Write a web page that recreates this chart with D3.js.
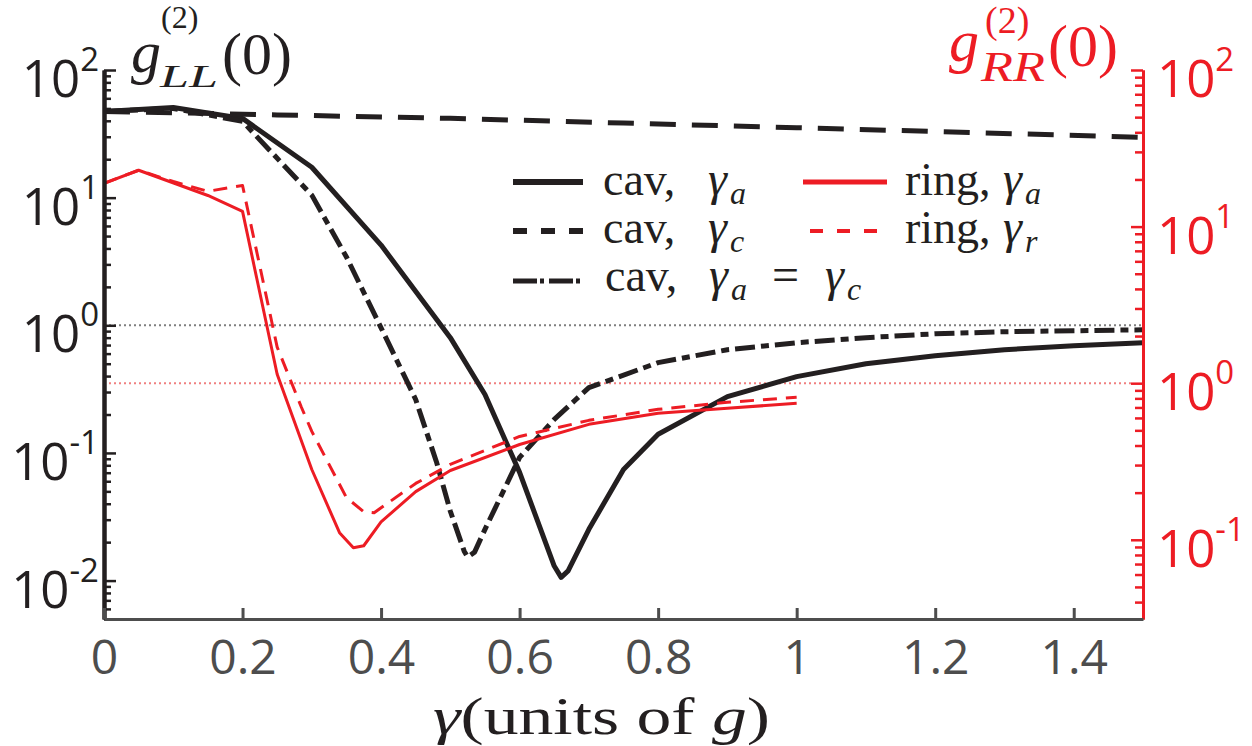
<!DOCTYPE html>
<html>
<head>
<meta charset="utf-8">
<script src="https://cdn.jsdelivr.net/npm/d3@7"></script>
<style>
  body { margin: 0; background: #fff; }
  svg { display: block; }
</style>
</head>
<body>
<div id="graf"></div>
<script>
// values (gamma in units of g)
const cavGaG = [0, 0.1, 0.2, 0.3, 0.4, 0.5, 0.55, 0.6, 0.65, 0.66, 0.67, 0.7, 0.75, 0.8, 0.9, 1.0, 1.1, 1.2, 1.3, 1.4, 1.5]
const cavGaV = [47.4, 50.9, 41.8, 17.3, 4.25, 0.80, 0.287, 0.0704, 0.0130, 0.0106, 0.0119, 0.0252, 0.0743, 0.14, 0.276, 0.396, 0.50, 0.578, 0.644, 0.69, 0.73]

const cavGcG = [0, 0.25, 0.5, 0.75, 1, 1.25, 1.5]
const cavGcV = [47.4, 44.5, 41.8, 38.4, 35.3, 32.4, 29.7]

const cavBothG = [0, 0.1, 0.2, 0.3, 0.35, 0.4, 0.45, 0.48, 0.5, 0.52, 0.525, 0.535, 0.55, 0.6, 0.65, 0.7, 0.8, 0.9, 1.0, 1.1, 1.2, 1.3, 1.4, 1.5]
const cavBothV = [47.4, 50.0, 39.6, 10.46, 3.43, 0.956, 0.262, 0.085, 0.0349, 0.0170, 0.0153, 0.0167, 0.0252, 0.0922, 0.183, 0.325, 0.51, 0.644, 0.73, 0.80, 0.858, 0.89, 0.906, 0.922]

// ring curves use the right (red) axis
const ringGaG = [0, 0.05, 0.15, 0.2, 0.25, 0.3, 0.34, 0.36, 0.375, 0.4, 0.45, 0.5, 0.6, 0.7, 0.8, 0.9, 1.0]
const ringGaV = [18.9, 22.9, 15.8, 12.5, 1.14, 0.281, 0.111, 0.0889, 0.0916, 0.130, 0.203, 0.277, 0.406, 0.546, 0.642, 0.692, 0.744]

const ringGrG = [0, 0.05, 0.1, 0.15, 0.2, 0.25, 0.285, 0.3, 0.35, 0.375, 0.39, 0.45, 0.5, 0.6, 0.7, 0.8, 0.9, 1.0]
const ringGrV = [18.9, 22.9, 19.4, 16.8, 18.3, 1.70, 0.702, 0.492, 0.186, 0.151, 0.149, 0.229, 0.303, 0.457, 0.579, 0.681, 0.755, 0.813]

const xTicks = [0, 0.2, 0.4, 0.6, 0.8, 1, 1.2, 1.4]
const xTickLabels = ["0", "0.2", "0.4", "0.6", "0.8", "1", "1.2", "1.4"]
const leftDecades = [-2, -1, 0, 1, 2]
const rightDecades = [-1, 0, 1, 2]

const BLACK = "#231f20", RED = "#ed1c24", GREY = "#4d4d4d"
const width = 1252, height = 746

const x = d3.scaleLinear().domain([0, 1.5]).range([104, 1143])
const yL = d3.scaleLog().domain([0.005, 100]).range([619, 70])
const yR = d3.scaleLog().domain([0.0312, 100]).range([619, 70])

const svg = d3.select("#graf").append("svg")
    .attr("width", width).attr("height", height)
    .attr("viewBox", [0, 0, width, height])

// reference lines at 1
svg.append("line")
    .attr("x1", x(0)).attr("x2", x(1.5)).attr("y1", yL(1)).attr("y2", yL(1))
    .attr("stroke", "#7f7f7f").attr("stroke-width", 2).attr("stroke-dasharray", "2,3")
svg.append("line")
    .attr("x1", x(0)).attr("x2", x(1.5) - 12).attr("y1", yR(1)).attr("y2", yR(1))
    .attr("stroke", "#f08080").attr("stroke-width", 2).attr("stroke-dasharray", "2,3")

const series = [
  {g: cavGaG, v: cavGaV, y: yL, color: BLACK, w: 5, dash: null},
  {g: cavGcG, v: cavGcV, y: yL, color: BLACK, w: 5, dash: "26,16"},
  {g: cavBothG, v: cavBothV, y: yL, color: BLACK, w: 5, dash: "20,6,8,6"},
  {g: ringGaG, v: ringGaV, y: yR, color: RED, w: 3, dash: null},
  {g: ringGrG, v: ringGrV, y: yR, color: RED, w: 3, dash: "14,9"}
]

series.forEach(s => {
  const line = d3.line().x(i => x(s.g[i])).y(i => s.y(s.v[i]))
  svg.append("path")
      .attr("fill", "none")
      .attr("stroke", s.color)
      .attr("stroke-width", s.w)
      .attr("stroke-linejoin", "round")
      .attr("stroke-dasharray", s.dash)
      .attr("d", line(d3.range(s.g.length)))
})

// axes
const isMajor = v => Math.abs(Math.log10(v) - Math.round(Math.log10(v))) < 1e-6

const leftMinor = yL.ticks().filter(v => !isMajor(v))
const rightMinor = yR.ticks().filter(v => !isMajor(v))

const leftMinorAx = svg.append("g").attr("transform", `translate(${x(0)},0)`)
    .call(d3.axisRight(yL).tickValues(leftMinor).tickSize(7).tickSizeOuter(0).tickFormat(""))
const leftMajorAx = svg.append("g").attr("transform", `translate(${x(0)},0)`)
    .call(d3.axisRight(yL).tickValues(leftDecades.map(d => 10 ** d)).tickSize(12).tickSizeOuter(0).tickFormat(""))
;[leftMinorAx, leftMajorAx].forEach(g => {
  g.selectAll("line").attr("stroke", BLACK).attr("stroke-width", 2.5)
  g.select(".domain").attr("stroke", BLACK).attr("stroke-width", 4)
})

const rightMinorAx = svg.append("g").attr("transform", `translate(${x(1.5)},0)`)
    .call(d3.axisLeft(yR).tickValues(rightMinor).tickSize(8).tickSizeOuter(0).tickFormat(""))
const rightMajorAx = svg.append("g").attr("transform", `translate(${x(1.5)},0)`)
    .call(d3.axisLeft(yR).tickValues(rightDecades.map(d => 10 ** d)).tickSize(12).tickSizeOuter(0).tickFormat(""))
;[rightMinorAx, rightMajorAx].forEach(g => {
  g.selectAll("line").attr("stroke", RED).attr("stroke-width", 2.5)
  g.select(".domain").attr("stroke", RED).attr("stroke-width", 3)
})

const xAx = svg.append("g").attr("transform", `translate(0,${yL.range()[0]})`)
    .call(d3.axisBottom(x).tickValues(xTicks).tickSizeInner(-11).tickSizeOuter(0)
      .tickPadding(21).tickFormat((d, i) => xTickLabels[i]))
xAx.select(".domain").attr("stroke", GREY).attr("stroke-width", 3)
xAx.selectAll("line").attr("stroke", GREY).attr("stroke-width", 3)
xAx.selectAll("text").attr("fill", GREY).attr("font-family", "'Open Sans', sans-serif").attr("font-size", 48)

// decade labels 10^n
const decadeLabel = (xpos, ypos, d, color, anchor) => {
  const t = svg.append("text")
      .attr("x", xpos).attr("y", ypos + 27)
      .attr("text-anchor", anchor)
      .attr("font-family", "'Open Sans', sans-serif")
      .attr("font-size", 51)
      .attr("fill", color)
  t.append("tspan").text("10")
  t.append("tspan").attr("font-size", 33).attr("dy", -26).text(d < 0 ? "-" + Math.abs(d) : d)
}
leftDecades.forEach(d => decadeLabel(99, yL(10 ** d), d, BLACK, "end"))
rightDecades.forEach(d => decadeLabel(1157, yR(10 ** d), d, RED, "start"))

// axis titles (math)
const serif = "'Liberation Serif', 'DejaVu Serif', serif"
const mathText = (parts, color) => {
  parts.forEach(p => {
    const t = svg.append("text")
        .attr("x", p.x).attr("y", p.y)
        .attr("font-family", serif)
        .attr("font-size", p.size)
        .attr("font-style", p.italic ? "italic" : "normal")
        .attr("fill", color)
        .text(p.s)
    if (p.len) t.attr("textLength", p.len).attr("lengthAdjust", "spacingAndGlyphs")
  })
}
mathText([
  {s: "g", x: 131, y: 72, size: 60, italic: true},
  {s: "(2)", x: 161, y: 28, size: 32},
  {s: "LL", x: 160, y: 87, size: 32, italic: true, len: 58},
  {s: "(0)", x: 222, y: 74, size: 60}
], BLACK)
mathText([
  {s: "g", x: 949, y: 61, size: 60, italic: true},
  {s: "(2)", x: 985, y: 33, size: 38},
  {s: "RR", x: 981, y: 81, size: 42, italic: true, len: 64},
  {s: "(0)", x: 1048, y: 66, size: 60}
], RED)

const xt = svg.append("text")
    .attr("x", 433).attr("y", 734)
    .attr("font-family", serif).attr("font-size", 52).attr("fill", BLACK)
    .attr("textLength", 337).attr("lengthAdjust", "spacingAndGlyphs")
xt.append("tspan").attr("font-style", "italic").text("γ")
xt.append("tspan").text("(units of ")
xt.append("tspan").attr("font-style", "italic").text("g")
xt.append("tspan").text(")")

// legend
const legendRows = [
  {x1: 513, x2: 583, y: 182, color: BLACK, w: 6, dash: null},
  {x1: 513, x2: 583, y: 231, color: BLACK, w: 6, dash: "14,14"},
  {x1: 513, x2: 583, y: 281, color: BLACK, w: 5, dash: "24,3,4,5"},
  {x1: 803, x2: 887, y: 182, color: RED, w: 5, dash: null},
  {x1: 810, x2: 880, y: 231, color: RED, w: 4, dash: "13,14"}
]
legendRows.forEach(r => {
  svg.append("line")
      .attr("x1", r.x1).attr("x2", r.x2).attr("y1", r.y).attr("y2", r.y)
      .attr("stroke", r.color).attr("stroke-width", r.w)
      .attr("stroke-dasharray", r.dash)
})
mathText([
  {s: "cav,", x: 603, y: 195, size: 46},
  {s: "γ", x: 708, y: 195, size: 48, italic: true},
  {s: "a", x: 730, y: 204, size: 32, italic: true},
  {s: "cav,", x: 603, y: 243, size: 46},
  {s: "γ", x: 708, y: 243, size: 48, italic: true},
  {s: "c", x: 730, y: 252, size: 32, italic: true},
  {s: "cav,", x: 605, y: 291, size: 46},
  {s: "γ", x: 709, y: 291, size: 48, italic: true},
  {s: "a", x: 731, y: 300, size: 32, italic: true},
  {s: "=", x: 772, y: 291, size: 48},
  {s: "γ", x: 825, y: 291, size: 48, italic: true},
  {s: "c", x: 847, y: 300, size: 32, italic: true}
], BLACK)
mathText([
  {s: "ring,", x: 905, y: 195, size: 46},
  {s: "γ", x: 1003, y: 195, size: 48, italic: true},
  {s: "a", x: 1025, y: 204, size: 32, italic: true},
  {s: "ring,", x: 905, y: 243, size: 46},
  {s: "γ", x: 1003, y: 243, size: 48, italic: true},
  {s: "r", x: 1025, y: 252, size: 32, italic: true}
], BLACK)
</script>
</body>
</html>
